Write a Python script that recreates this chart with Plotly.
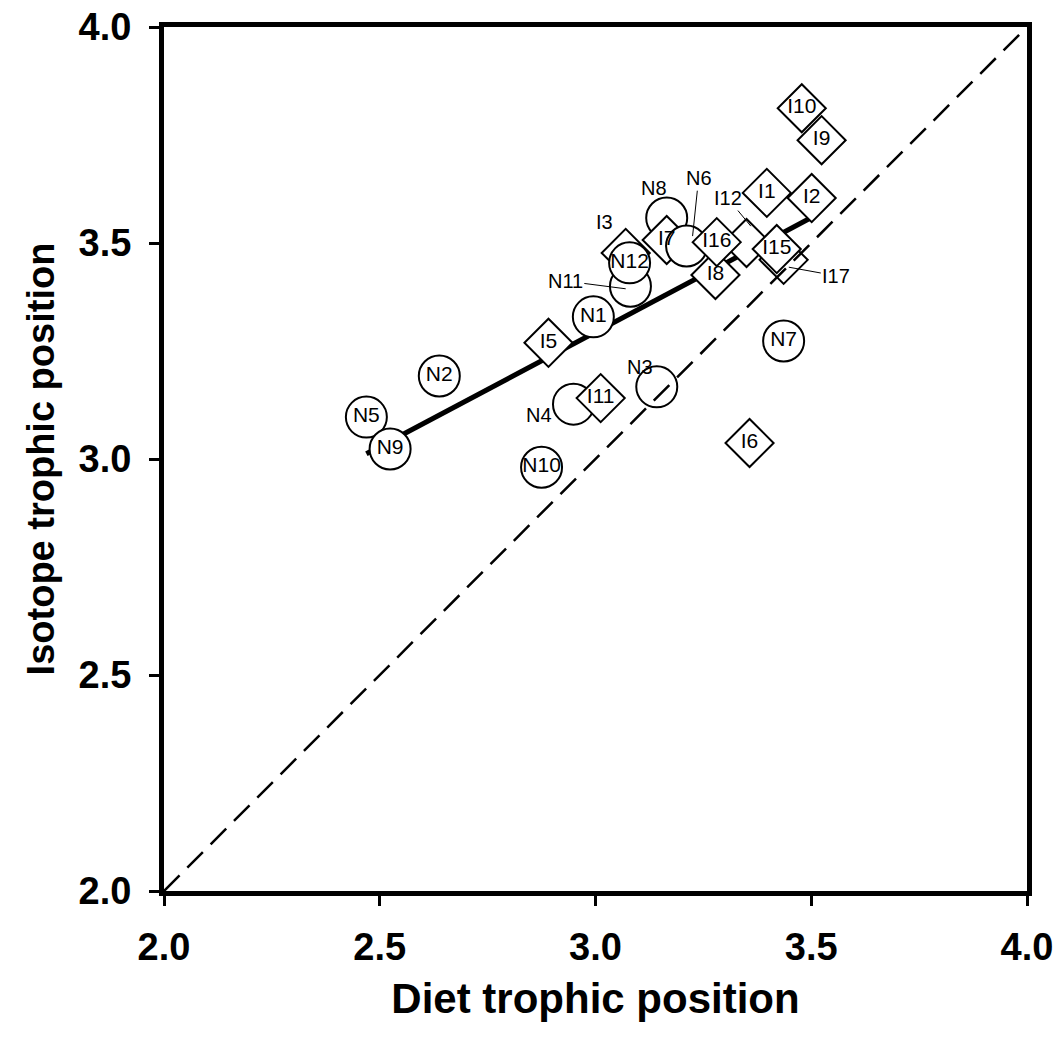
import plotly.graph_objects as go

# Points (drawing order matters for overlaps)
labels = ["N5", "N9", "N2", "N10", "N4", "I11", "N3", "I5", "N1", "I3", "N11", "N12",
          "N8", "I7", "N6", "I8", "I12", "I16", "I17", "I15", "I1", "I2", "I10", "I9",
          "N7", "I6"]
diet_tp = [2.469, 2.524, 2.638, 2.875, 2.949, 3.012, 3.142, 2.891, 2.995, 3.070, 3.081, 3.079,
           3.165, 3.165, 3.211, 3.278, 3.350, 3.281, 3.436, 3.420, 3.397, 3.501, 3.478, 3.524,
           3.436, 3.357]
isotope_tp = [3.097, 3.023, 3.192, 2.981, 3.127, 3.141, 3.167, 3.269, 3.329, 3.477, 3.400, 3.454,
              3.558, 3.507, 3.493, 3.426, 3.500, 3.502, 3.461, 3.486, 3.616, 3.604, 3.812, 3.738,
              3.273, 3.037]
# labels shown inside the marker ("" = label drawn outside)
inner_text = ["N5", "N9", "N2", "N10", "", "I11", "", "I5", "N1", "", "", "N12",
              "", "I7", "", "I8", "", "I16", "", "I15", "I1", "I2", "I10", "I9",
              "N7", "I6"]

# Regression line end points
fit_x = [2.469, 3.495]
fit_y = [3.012, 3.556]
# 1:1 line
one_x = [2.0, 4.0]
one_y = [2.0, 4.0]

# Outside labels: text, label position, leader end (None = no leader)
out_text = ["N8", "N6", "I3", "N11", "I12", "I17", "N3", "N4"]
out_x = [3.135, 3.239, 3.021, 2.930, 3.306, 3.558, 3.102, 2.868]
out_y = [3.627, 3.650, 3.549, 3.412, 3.604, 3.424, 3.213, 3.102]
lead_x = [None, 3.225, None, 3.070, 3.360, 3.448, None, None]
lead_y = [None, 3.516, None, 3.394, 3.539, 3.444, None, None]

x_ticks = [2.0, 2.5, 3.0, 3.5, 4.0]
y_ticks = [2.0, 2.5, 3.0, 3.5, 4.0]
tick_text = ["2.0", "2.5", "3.0", "3.5", "4.0"]

FONT = "Liberation Sans, Arial"
symbols = ["circle" if l.startswith("N") else "diamond" for l in labels]
sizes = [41 if l.startswith("N") else 37 for l in labels]

fig = go.Figure()
fig.add_trace(go.Scatter(x=fit_x, y=fit_y, mode="lines",
                         line=dict(color="black", width=5), hoverinfo="skip"))
fig.add_trace(go.Scatter(
    x=diet_tp, y=isotope_tp, mode="markers+text", text=inner_text,
    textposition="middle center",
    textfont=dict(family=FONT, size=21, color="black"),
    marker=dict(symbol=symbols, size=sizes, color="white", opacity=1,
                line=dict(color="black", width=2)),
    hovertext=labels))
fig.add_trace(go.Scatter(x=one_x, y=one_y, mode="lines",
                         line=dict(color="black", width=2.5, dash="22px,11px"),
                         hoverinfo="skip"))

annotations = []
for t, x, y, lx, ly in zip(out_text, out_x, out_y, lead_x, lead_y):
    if lx is None:
        annotations.append(dict(x=x, y=y, text=t, showarrow=False,
                                font=dict(family=FONT, size=20, color="black")))
    else:
        annotations.append(dict(x=lx, y=ly, ax=x, ay=y, axref="x", ayref="y",
                                text=t, showarrow=True, arrowhead=0, arrowwidth=1,
                                arrowcolor="black", standoff=0, startstandoff=0,
                                font=dict(family=FONT, size=20, color="black")))

axis_common = dict(showgrid=False, zeroline=False, showline=True, linecolor="black",
                   linewidth=5, mirror=True, ticks="outside", ticklen=10, tickwidth=3,
                   tickcolor="black", automargin=False,
                   tickfont=dict(family=FONT, size=38, color="black", weight="bold"))

fig.update_layout(
    width=1061, height=1049,
    margin=dict(l=164, r=34, t=27, b=158),
    paper_bgcolor="white", plot_bgcolor="white",
    showlegend=False,
    annotations=annotations,
    xaxis=dict(range=[2.0, 4.0], tickvals=x_ticks, ticktext=tick_text,
               ticklabelstandoff=8,
               title=dict(text="Diet trophic position", standoff=19,
                          font=dict(family=FONT, size=42, color="black", weight="bold")),
               **axis_common),
    yaxis=dict(range=[2.0, 4.0], tickvals=y_ticks, ticktext=tick_text,
               ticklabelstandoff=10,
               title=dict(text="Isotope trophic position", standoff=14,
                          font=dict(family=FONT, size=38, color="black", weight="bold")),
               **axis_common),
)

fig.write_html("out.html")
